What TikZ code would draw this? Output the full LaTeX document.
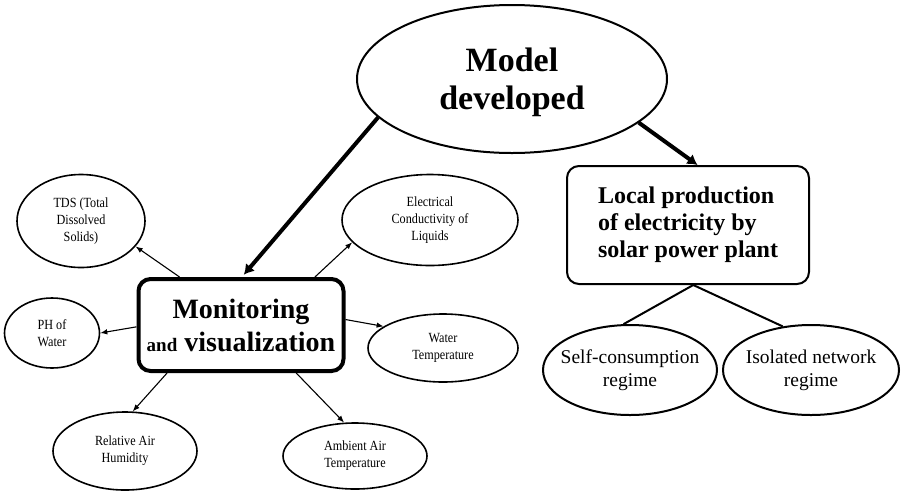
\documentclass[tikz,border=0pt]{standalone}
\usepackage{fontspec}
\setmainfont{Liberation Serif}
\newfontfamily\condfont[FakeStretch=0.87]{Liberation Serif}
\usetikzlibrary{shapes.geometric,arrows.meta}
\begin{document}
\begin{tikzpicture}[x=1pt,y=-1pt,
  oval/.style={ellipse,draw,line width=1.6pt,inner sep=0pt},
  ovaltext/.style={inner sep=0pt,align=center},
  smalltext/.style={ovaltext,font=\condfont\fontsize{14}{17}\selectfont},
  regimetext/.style={ovaltext,font=\fontsize{19.5}{23}\selectfont},
  thinarrow/.style={line width=1.1pt,-{Latex[length=7pt,width=5.5pt]}},
  thickarrow/.style={line width=4pt,-{Latex[length=10pt,width=12pt]}},
  plainline/.style={line width=2pt}]
\useasboundingbox (0,0) rectangle (901,491);
\fill[white] (0,0) rectangle (901,491);

% main ellipse
\node[oval,line width=2pt,minimum width=310pt,minimum height=148pt] (model) at (512,79) {};
\node[ovaltext,font=\bfseries\fontsize{34}{38}\selectfont] (modelt) at (512,82) {Model\\developed};

% monitoring box
\node[draw,line width=4pt,rounded corners=12pt,minimum width=205pt,minimum height=92pt,
      inner sep=0pt,align=center,font=\bfseries\fontsize{28}{33}\selectfont]
      (mon) at (241,325) {Monitoring\\{\fontsize{19}{22}\selectfont and} visualization};

% local production box
\node[draw,line width=2pt,rounded corners=12pt,minimum width=242pt,minimum height=118pt,
      inner sep=0pt,align=left,font=\bfseries\fontsize{24}{27}\selectfont]
      (local) at (688,225) {Local production\\of electricity by\\solar power plant};

% regimes
\node[oval,line width=2pt,minimum width=174pt,minimum height=90pt] (self) at (630,370) {};
\node[regimetext] (selft) at (self) {Self-consumption\\regime};
\node[oval,line width=2pt,minimum width=176pt,minimum height=90pt] (iso) at (811,370) {};
\node[regimetext] (isot) at (iso) {Isolated network\\regime};

% small ellipses
\node[oval,minimum width=128pt,minimum height=93pt] (tds) at (81,221) {};
\node[smalltext] (tdst) at (tds) {TDS (Total\\Dissolved\\Solids)};
\node[oval,minimum width=95pt,minimum height=70pt] (ph) at (52,333) {};
\node[smalltext] (pht) at (ph) {PH of\\Water};
\node[oval,minimum width=144pt,minimum height=78pt] (rel) at (125,451) {};
\node[smalltext] (relt) at (rel) {Relative Air\\Humidity};
\node[oval,minimum width=144pt,minimum height=66pt] (amb) at (355,456) {};
\node[smalltext] (ambt) at (amb) {Ambient Air\\Temperature};
\node[oval,minimum width=176pt,minimum height=91pt] (elec) at (430,220) {};
\node[smalltext] (elect) at (elec) {Electrical\\Conductivity of\\Liquids};
\node[oval,minimum width=150pt,minimum height=68pt] (wat) at (443,348) {};
\node[smalltext] (watt) at (wat) {Water\\Temperature};

% thick arrows
\draw[thickarrow,shorten >=3pt] (model.196.4) -- (mon.89);
\draw[thickarrow] (model.-19) -- (local.81.6);

% thin arrows
\draw[thinarrow] (mon.142.7) -- (tds.-25.7);
\draw[thinarrow] (mon.181) -- (ph.0);
\draw[thinarrow] (mon.213.9) -- (rel.79.5);
\draw[thinarrow] (mon.-41.8) -- (amb.108);
\draw[thinarrow] (mon.33.7) -- (elec.196.9);
\draw[thinarrow] (mon.3.4) -- (wat.160.2);

% plain lines
\draw[plainline] (local.-85) -- (self.98.7);
\draw[plainline] (local.-85) -- (iso.123);
\end{tikzpicture}
\end{document}
